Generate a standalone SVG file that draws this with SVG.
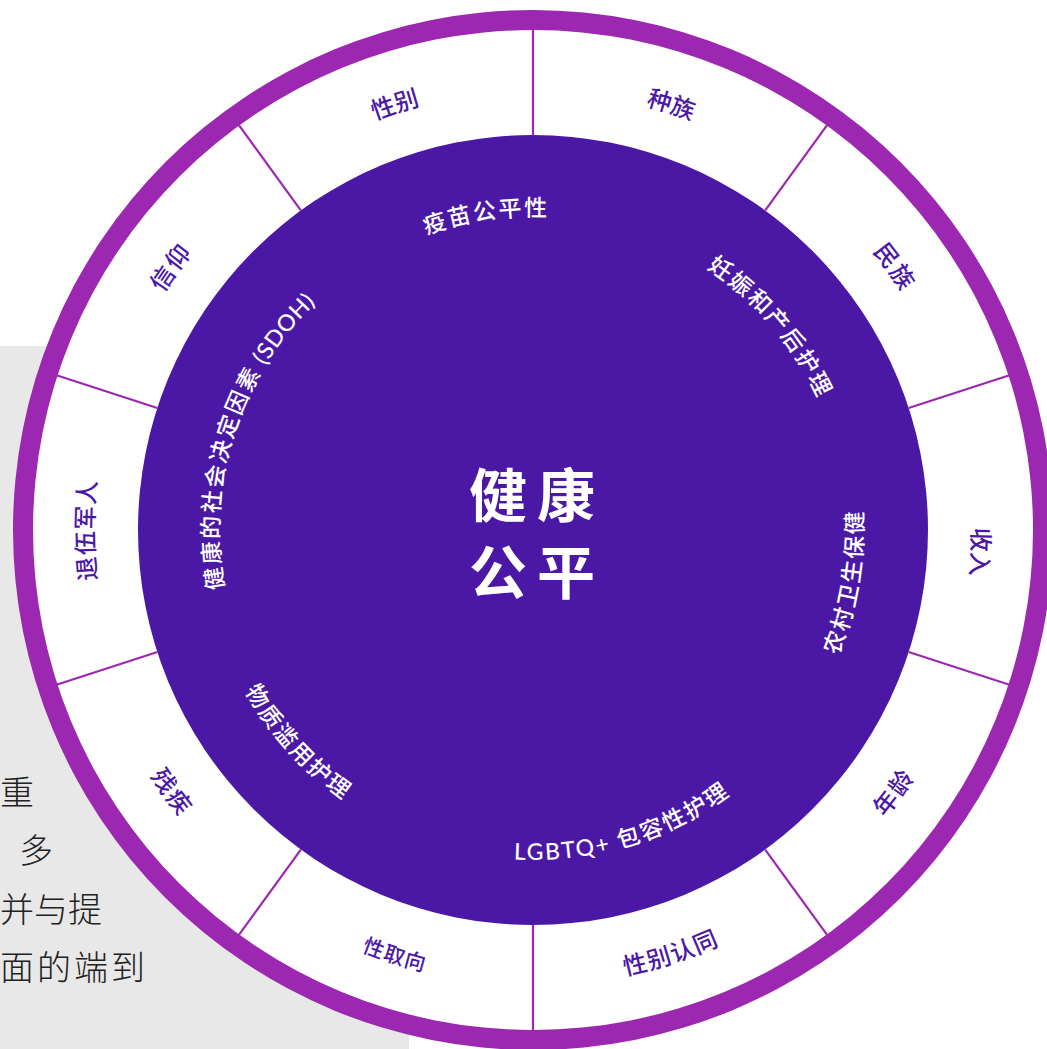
<svg xmlns="http://www.w3.org/2000/svg" xmlns:xlink="http://www.w3.org/1999/xlink" width="1047" height="1049" viewBox="0 0 1047 1049">
<style>
.bgtext{font-family:"Noto Sans CJK SC","Noto Sans",sans-serif;font-size:34px;font-weight:300;fill:#222}
.ring-label{font-family:"Noto Sans CJK SC","Noto Sans",sans-serif;font-size:24px;font-weight:500;fill:#4b18a6;letter-spacing:0px}
.inner-label{font-family:Lato,"Noto Sans CJK SC",sans-serif;font-size:23px;font-weight:500;fill:#ffffff;letter-spacing:2px}
.center-label{font-family:"Noto Sans CJK SC",sans-serif;font-size:58px;font-weight:700;fill:#ffffff;letter-spacing:10px}
.divider{stroke:#9c27b0;stroke-width:2.2}
</style>
<defs>
<path id="ringTop" d="M152.8 310.5 A439 439 0 0 1 913.2 310.5"/>
<path id="ringBot" d="M139 757.5 A455 455 0 0 0 927 757.5"/>
<path id="innerTop" d="M261.1 373 A314 314 0 0 1 804.9 373"/>
<path id="innerBot" d="M247.2 695 A330 330 0 0 0 818.8 695"/>
</defs>
<rect width="1047" height="1049" fill="#ffffff"/>
<g id="background-panel">
<rect x="0" y="346" width="409" height="703" fill="#e8e8e8"/>
<text class="bgtext" x="0" y="805">重</text>
<text class="bgtext" x="19" y="863">多</text>
<text class="bgtext" x="0" y="922">并与提</text>
<text class="bgtext" x="0" y="980" style="letter-spacing:3px">面的端到</text>
</g>
<g id="outer-ring">
<circle cx="533" cy="530" r="520" fill="#9c27b0"/>
<circle cx="533" cy="530" r="500" fill="#ffffff"/>
</g>
<g id="connectors">
<line class="divider" x1="533" y1="135" x2="533" y2="25" transform="rotate(0 533 530)"/>
<line class="divider" x1="533" y1="135" x2="533" y2="25" transform="rotate(36 533 530)"/>
<line class="divider" x1="533" y1="135" x2="533" y2="25" transform="rotate(72 533 530)"/>
<line class="divider" x1="533" y1="135" x2="533" y2="25" transform="rotate(108 533 530)"/>
<line class="divider" x1="533" y1="135" x2="533" y2="25" transform="rotate(144 533 530)"/>
<line class="divider" x1="533" y1="135" x2="533" y2="25" transform="rotate(180 533 530)"/>
<line class="divider" x1="533" y1="135" x2="533" y2="25" transform="rotate(216 533 530)"/>
<line class="divider" x1="533" y1="135" x2="533" y2="25" transform="rotate(252 533 530)"/>
<line class="divider" x1="533" y1="135" x2="533" y2="25" transform="rotate(288 533 530)"/>
<line class="divider" x1="533" y1="135" x2="533" y2="25" transform="rotate(324 533 530)"/>
</g>
<g id="segment-race"><text class="ring-label" transform="rotate(18 533 530)"><textPath xlink:href="#ringTop" href="#ringTop" startOffset="50%" text-anchor="middle">种族</textPath></text></g>
<g id="segment-ethnicity"><text class="ring-label" style="letter-spacing:2px" transform="rotate(54 533 530)"><textPath xlink:href="#ringTop" href="#ringTop" startOffset="50%" text-anchor="middle">民族</textPath></text></g>
<g id="segment-income"><text class="ring-label" transform="rotate(92.8 533 530)"><textPath xlink:href="#ringTop" href="#ringTop" startOffset="50%" text-anchor="middle">收入</textPath></text></g>
<g id="segment-age"><text class="ring-label" style="letter-spacing:2px" transform="rotate(-54 533 530)"><textPath xlink:href="#ringBot" href="#ringBot" startOffset="50%" text-anchor="middle">年龄</textPath></text></g>
<g id="segment-gender-identity"><text class="ring-label" style="letter-spacing:1px" transform="rotate(-18 533 530)"><textPath xlink:href="#ringBot" href="#ringBot" startOffset="50%" text-anchor="middle">性别认同</textPath></text></g>
<g id="segment-sexual-orientation"><text class="ring-label" style="font-size:21px;letter-spacing:1px" transform="rotate(18 533 530)"><textPath xlink:href="#ringBot" href="#ringBot" startOffset="50%" text-anchor="middle">性取向</textPath></text></g>
<g id="segment-disability"><text class="ring-label" style="letter-spacing:2px" transform="rotate(54 533 530)"><textPath xlink:href="#ringBot" href="#ringBot" startOffset="50%" text-anchor="middle">残疾</textPath></text></g>
<g id="segment-veterans"><text class="ring-label" style="letter-spacing:1px" transform="rotate(-90 533 530)"><textPath xlink:href="#ringTop" href="#ringTop" startOffset="50%" text-anchor="middle">退伍军人</textPath></text></g>
<g id="segment-religion"><text class="ring-label" style="letter-spacing:2px" transform="rotate(-54 533 530)"><textPath xlink:href="#ringTop" href="#ringTop" startOffset="50%" text-anchor="middle">信仰</textPath></text></g>
<g id="segment-gender"><text class="ring-label" transform="rotate(-18 533 530)"><textPath xlink:href="#ringTop" href="#ringTop" startOffset="50%" text-anchor="middle">性别</textPath></text></g>
<g id="inner-circle">
<circle cx="533" cy="530" r="395" fill="#4b18a6"/>
</g>
<g id="inner-vaccine"><text class="inner-label" transform="rotate(-8.5 533 530)"><textPath xlink:href="#innerTop" href="#innerTop" startOffset="50%" text-anchor="middle">疫苗公平性</textPath></text></g>
<g id="inner-maternal"><text class="inner-label" transform="rotate(49.5 533 530)"><textPath xlink:href="#innerTop" href="#innerTop" startOffset="50%" text-anchor="middle">妊娠和产后护理</textPath></text></g>
<g id="inner-rural"><text class="inner-label" transform="rotate(-80.6 533 530)"><textPath xlink:href="#innerBot" href="#innerBot" startOffset="50%" text-anchor="middle">农村卫生保健</textPath></text></g>
<g id="inner-lgbtq"><text class="inner-label" transform="rotate(-16.8 533 530)"><textPath xlink:href="#innerBot" href="#innerBot" startOffset="50%" text-anchor="middle">LGBTQ+ 包容性护理</textPath></text></g>
<g id="inner-substance"><text class="inner-label" transform="rotate(47.9 533 530)"><textPath xlink:href="#innerBot" href="#innerBot" startOffset="50%" text-anchor="middle">物质滥用护理</textPath></text></g>
<g id="inner-sdoh"><text class="inner-label" transform="rotate(-72.2 533 530)"><textPath xlink:href="#innerTop" href="#innerTop" startOffset="50%" text-anchor="middle">健康的社会决定因素<tspan style="letter-spacing:0.5px"> (SDOH)</tspan></textPath></text></g>
<g id="center">
<text class="center-label" x="469" y="517">健康</text>
<text class="center-label" x="469" y="594">公平</text>
</g>
</svg>
